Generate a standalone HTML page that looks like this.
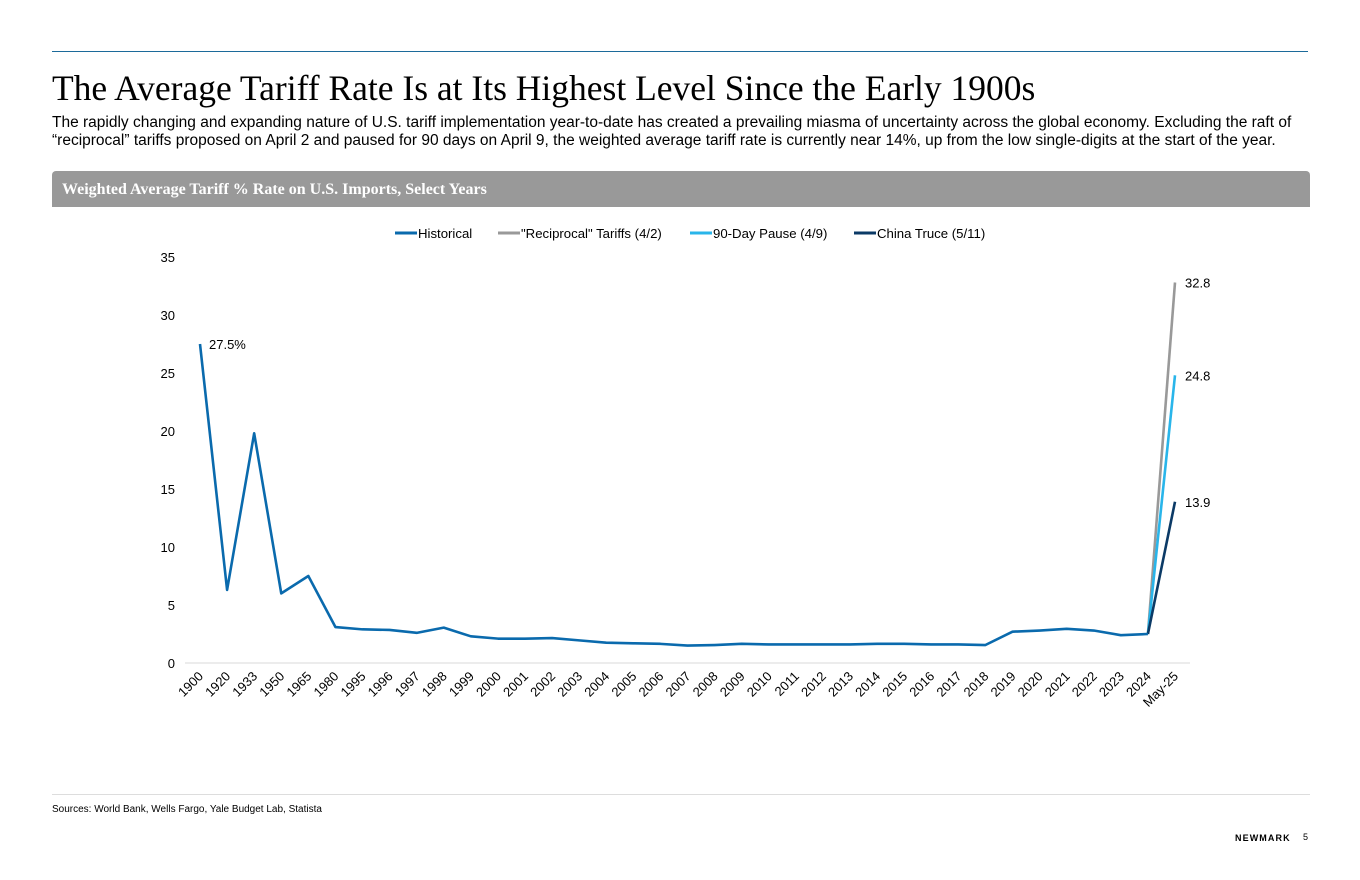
<!DOCTYPE html>
<html><head><meta charset="utf-8"><style>
body{margin:0;width:1360px;height:880px;background:#fff;position:relative;font-family:"Liberation Sans",sans-serif;overflow:hidden}
.abs{position:absolute}
</style></head><body>
<div class="abs" style="left:52px;top:51px;width:1256px;height:1px;background:#1c6a9a"></div>
<div class="abs" style="left:52px;top:67px;font-family:'Liberation Serif',serif;font-size:35.5px;color:#000;white-space:nowrap">The Average Tariff Rate Is at Its Highest Level Since the Early 1900s</div>
<div class="abs" style="left:52px;top:114px;width:1270px;font-size:15.5px;line-height:18px;color:#000">The rapidly changing and expanding nature of U.S. tariff implementation year-to-date has created a prevailing miasma of uncertainty across the global economy. Excluding the raft of “reciprocal” tariffs proposed on April 2 and paused for 90 days on April 9, the weighted average tariff rate is currently near 14%, up from the low single-digits at the start of the year.</div>
<div class="abs" style="left:52px;top:171px;width:1258px;height:36px;background:#999;border-radius:4px 4px 0 0"></div>
<div class="abs" style="left:62px;top:181px;font-family:'Liberation Serif',serif;font-weight:bold;font-size:16px;color:#fff">Weighted Average Tariff % Rate on U.S. Imports, Select Years</div>
<svg class="abs" style="left:0;top:0" width="1360" height="880" id="chart"></svg>
<div class="abs" style="left:52px;top:794px;width:1258px;height:1px;background:#ddd"></div>
<div class="abs" style="left:52px;top:804px;font-size:10px;color:#000">Sources: World Bank, Wells Fargo, Yale Budget Lab, Statista</div>
<div class="abs" style="left:1235px;top:833px;font-size:9px;font-weight:bold;letter-spacing:1.1px;color:#000">NEWMARK</div>
<div class="abs" style="left:1303px;top:832px;font-size:9px;color:#000">5</div>
<script>
const categories=["1900","1920","1933","1950","1965","1980","1995","1996","1997","1998","1999","2000","2001","2002","2003","2004","2005","2006","2007","2008","2009","2010","2011","2012","2013","2014","2015","2016","2017","2018","2019","2020","2021","2022","2023","2024","May-25"];
const historical=[27.5,6.3,19.8,6.0,7.5,3.1,2.9,2.85,2.6,3.05,2.3,2.1,2.1,2.15,1.95,1.75,1.7,1.65,1.5,1.55,1.65,1.6,1.6,1.6,1.6,1.65,1.65,1.6,1.6,1.55,2.7,2.8,2.95,2.8,2.4,2.5,null];
const reciprocal=[2.5,32.8];
const pause=[2.5,24.8];
const china=[2.5,13.9];
const yTicks=[0,5,10,15,20,25,30,35];
const seriesNames=["Historical","\"Reciprocal\" Tariffs (4/2)","90-Day Pause (4/9)","China Truce (5/11)"];
const seriesColors=["#0a6aad","#999999","#29b5ea","#0b3a66"];

const NS="http://www.w3.org/2000/svg";
const svg=document.getElementById('chart');
const x0=200,x1=1175,y0=663,y1=257;
const xs=i=>x0+(x1-x0)*i/(categories.length-1);
const ys=v=>y0-(y0-y1)*v/35;
function mk(t,a){const e=document.createElementNS(NS,t);for(const k in a)e.setAttribute(k,a[k]);svg.appendChild(e);return e;}
const axis=mk('line',{x1:185,x2:1190,y1:y0,y2:y0,stroke:'#d9d9d9','stroke-width':1});


yTicks.forEach(v=>{const t=mk('text',{x:175,y:ys(v)+5,'text-anchor':'end','font-size':13,fill:'#000','font-family':'Liberation Sans, sans-serif'});t.textContent=v;

});
categories.forEach((c,i)=>{const x=xs(i)+4,y=y0+14;const t=mk('text',{x:x,y:y,'text-anchor':'end','font-size':13,fill:'#000','font-family':'Liberation Sans, sans-serif',transform:`rotate(-45 ${x} ${y})`});t.textContent=c;

});
function line(pts,col,name){const p=mk('polyline',{points:pts.map(q=>q.join(',')).join(' '),fill:'none',stroke:col,'stroke-width':2.6,'stroke-linejoin':'round'});

}
const n=categories.length;
line([[xs(n-2),ys(reciprocal[0])],[xs(n-1),ys(reciprocal[1])]],seriesColors[1],'reciprocal-line');
line([[xs(n-2),ys(pause[0])],[xs(n-1),ys(pause[1])]],seriesColors[2],'pause-line');
line([[xs(n-2),ys(china[0])],[xs(n-1),ys(china[1])]],seriesColors[3],'china-truce-line');
line(historical.map((v,i)=>v==null?null:[xs(i),ys(v)]).filter(Boolean),seriesColors[0],'historical-line');
function lab(x,y,s,name){const t=mk('text',{x:x,y:y,'font-size':13,fill:'#000','font-family':'Liberation Sans, sans-serif'});t.textContent=s;

}
lab(xs(0)+9,ys(historical[0])+5,historical[0].toFixed(1)+'%','label-1900');
lab(xs(n-1)+10,ys(reciprocal[1])+5,reciprocal[1].toFixed(1),'label-reciprocal');
lab(xs(n-1)+10,ys(pause[1])+5,pause[1].toFixed(1),'label-pause');
lab(xs(n-1)+10,ys(china[1])+5,china[1].toFixed(1),'label-china');
const lx=[395,498,690,854];
seriesNames.forEach((s,i)=>{const l=mk('line',{x1:lx[i],x2:lx[i]+22,y1:233,y2:233,stroke:seriesColors[i],'stroke-width':3});


const t=mk('text',{x:lx[i]+23,y:238,'font-size':13.2,fill:'#000','font-family':'Liberation Sans, sans-serif'});t.textContent=s;

});
</script>
</body></html>
